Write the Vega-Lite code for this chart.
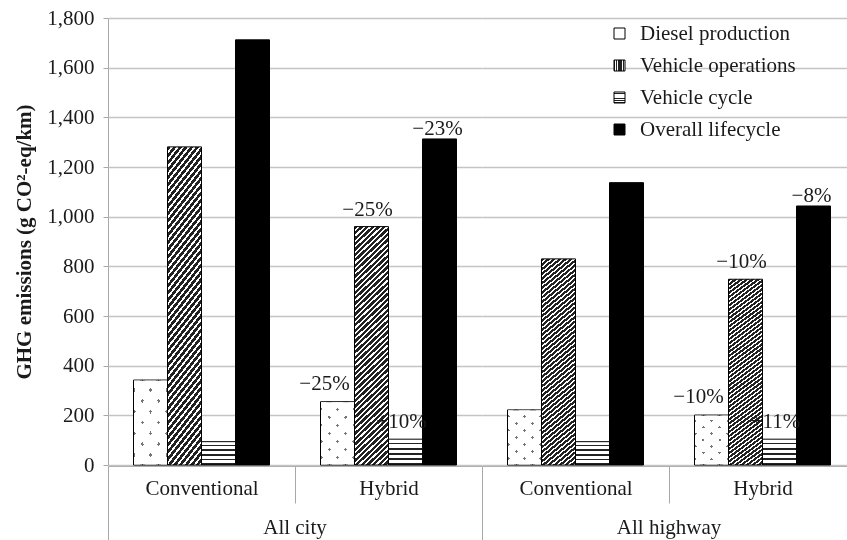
{
  "$schema": "https://vega.github.io/schema/vega-lite/v6.json",
  "padding": {"left": 13, "top": 7, "right": 0, "bottom": 0},
  "background": "white",
  "params": [
    {"name": "opsFill", "expr": "{gradient:'linear',x1:0,y1:0,x2:0.152,y2:1.115,stops:[{offset:0,color:'#222'},{offset:0.012,color:'#222'},{offset:0.012,color:'#fff'},{offset:0.02,color:'#fff'},{offset:0.02,color:'#222'},{offset:0.032,color:'#222'},{offset:0.032,color:'#fff'},{offset:0.04,color:'#fff'},{offset:0.04,color:'#222'},{offset:0.052,color:'#222'},{offset:0.052,color:'#fff'},{offset:0.06,color:'#fff'},{offset:0.06,color:'#222'},{offset:0.072,color:'#222'},{offset:0.072,color:'#fff'},{offset:0.08,color:'#fff'},{offset:0.08,color:'#222'},{offset:0.092,color:'#222'},{offset:0.092,color:'#fff'},{offset:0.1,color:'#fff'},{offset:0.1,color:'#222'},{offset:0.112,color:'#222'},{offset:0.112,color:'#fff'},{offset:0.12,color:'#fff'},{offset:0.12,color:'#222'},{offset:0.132,color:'#222'},{offset:0.132,color:'#fff'},{offset:0.14,color:'#fff'},{offset:0.14,color:'#222'},{offset:0.152,color:'#222'},{offset:0.152,color:'#fff'},{offset:0.16,color:'#fff'},{offset:0.16,color:'#222'},{offset:0.172,color:'#222'},{offset:0.172,color:'#fff'},{offset:0.18,color:'#fff'},{offset:0.18,color:'#222'},{offset:0.192,color:'#222'},{offset:0.192,color:'#fff'},{offset:0.2,color:'#fff'},{offset:0.2,color:'#222'},{offset:0.212,color:'#222'},{offset:0.212,color:'#fff'},{offset:0.22,color:'#fff'},{offset:0.22,color:'#222'},{offset:0.232,color:'#222'},{offset:0.232,color:'#fff'},{offset:0.24,color:'#fff'},{offset:0.24,color:'#222'},{offset:0.252,color:'#222'},{offset:0.252,color:'#fff'},{offset:0.26,color:'#fff'},{offset:0.26,color:'#222'},{offset:0.272,color:'#222'},{offset:0.272,color:'#fff'},{offset:0.28,color:'#fff'},{offset:0.28,color:'#222'},{offset:0.292,color:'#222'},{offset:0.292,color:'#fff'},{offset:0.3,color:'#fff'},{offset:0.3,color:'#222'},{offset:0.312,color:'#222'},{offset:0.312,color:'#fff'},{offset:0.32,color:'#fff'},{offset:0.32,color:'#222'},{offset:0.332,color:'#222'},{offset:0.332,color:'#fff'},{offset:0.34,color:'#fff'},{offset:0.34,color:'#222'},{offset:0.352,color:'#222'},{offset:0.352,color:'#fff'},{offset:0.36,color:'#fff'},{offset:0.36,color:'#222'},{offset:0.372,color:'#222'},{offset:0.372,color:'#fff'},{offset:0.38,color:'#fff'},{offset:0.38,color:'#222'},{offset:0.392,color:'#222'},{offset:0.392,color:'#fff'},{offset:0.4,color:'#fff'},{offset:0.4,color:'#222'},{offset:0.412,color:'#222'},{offset:0.412,color:'#fff'},{offset:0.42,color:'#fff'},{offset:0.42,color:'#222'},{offset:0.432,color:'#222'},{offset:0.432,color:'#fff'},{offset:0.44,color:'#fff'},{offset:0.44,color:'#222'},{offset:0.452,color:'#222'},{offset:0.452,color:'#fff'},{offset:0.46,color:'#fff'},{offset:0.46,color:'#222'},{offset:0.472,color:'#222'},{offset:0.472,color:'#fff'},{offset:0.48,color:'#fff'},{offset:0.48,color:'#222'},{offset:0.492,color:'#222'},{offset:0.492,color:'#fff'},{offset:0.5,color:'#fff'},{offset:0.5,color:'#222'},{offset:0.512,color:'#222'},{offset:0.512,color:'#fff'},{offset:0.52,color:'#fff'},{offset:0.52,color:'#222'},{offset:0.532,color:'#222'},{offset:0.532,color:'#fff'},{offset:0.54,color:'#fff'},{offset:0.54,color:'#222'},{offset:0.552,color:'#222'},{offset:0.552,color:'#fff'},{offset:0.56,color:'#fff'},{offset:0.56,color:'#222'},{offset:0.572,color:'#222'},{offset:0.572,color:'#fff'},{offset:0.58,color:'#fff'},{offset:0.58,color:'#222'},{offset:0.592,color:'#222'},{offset:0.592,color:'#fff'},{offset:0.6,color:'#fff'},{offset:0.6,color:'#222'},{offset:0.612,color:'#222'},{offset:0.612,color:'#fff'},{offset:0.62,color:'#fff'},{offset:0.62,color:'#222'},{offset:0.632,color:'#222'},{offset:0.632,color:'#fff'},{offset:0.64,color:'#fff'},{offset:0.64,color:'#222'},{offset:0.652,color:'#222'},{offset:0.652,color:'#fff'},{offset:0.66,color:'#fff'},{offset:0.66,color:'#222'},{offset:0.672,color:'#222'},{offset:0.672,color:'#fff'},{offset:0.68,color:'#fff'},{offset:0.68,color:'#222'},{offset:0.692,color:'#222'},{offset:0.692,color:'#fff'},{offset:0.7,color:'#fff'},{offset:0.7,color:'#222'},{offset:0.712,color:'#222'},{offset:0.712,color:'#fff'},{offset:0.72,color:'#fff'},{offset:0.72,color:'#222'},{offset:0.732,color:'#222'},{offset:0.732,color:'#fff'},{offset:0.74,color:'#fff'},{offset:0.74,color:'#222'},{offset:0.752,color:'#222'},{offset:0.752,color:'#fff'},{offset:0.76,color:'#fff'},{offset:0.76,color:'#222'},{offset:0.772,color:'#222'},{offset:0.772,color:'#fff'},{offset:0.78,color:'#fff'},{offset:0.78,color:'#222'},{offset:0.792,color:'#222'},{offset:0.792,color:'#fff'},{offset:0.8,color:'#fff'},{offset:0.8,color:'#222'},{offset:0.812,color:'#222'},{offset:0.812,color:'#fff'},{offset:0.82,color:'#fff'},{offset:0.82,color:'#222'},{offset:0.832,color:'#222'},{offset:0.832,color:'#fff'},{offset:0.84,color:'#fff'},{offset:0.84,color:'#222'},{offset:0.852,color:'#222'},{offset:0.852,color:'#fff'},{offset:0.86,color:'#fff'},{offset:0.86,color:'#222'},{offset:0.872,color:'#222'},{offset:0.872,color:'#fff'},{offset:0.88,color:'#fff'},{offset:0.88,color:'#222'},{offset:0.892,color:'#222'},{offset:0.892,color:'#fff'},{offset:0.9,color:'#fff'},{offset:0.9,color:'#222'},{offset:0.912,color:'#222'},{offset:0.912,color:'#fff'},{offset:0.92,color:'#fff'},{offset:0.92,color:'#222'},{offset:0.932,color:'#222'},{offset:0.932,color:'#fff'},{offset:0.94,color:'#fff'},{offset:0.94,color:'#222'},{offset:0.952,color:'#222'},{offset:0.952,color:'#fff'},{offset:0.96,color:'#fff'},{offset:0.96,color:'#222'},{offset:0.972,color:'#222'},{offset:0.972,color:'#fff'},{offset:0.98,color:'#fff'},{offset:0.98,color:'#222'},{offset:0.992,color:'#222'},{offset:0.992,color:'#fff'},{offset:1,color:'#fff'}]}"},
    {"name": "cycleFill", "expr": "{gradient:'linear',x1:0,y1:0,x2:0,y2:1,stops:[{offset:0,color:'#fff'},{offset:0.13,color:'#fff'},{offset:0.13,color:'#222'},{offset:0.2,color:'#222'},{offset:0.2,color:'#fff'},{offset:0.33,color:'#fff'},{offset:0.33,color:'#222'},{offset:0.4,color:'#222'},{offset:0.4,color:'#fff'},{offset:0.53,color:'#fff'},{offset:0.53,color:'#222'},{offset:0.6,color:'#222'},{offset:0.6,color:'#fff'},{offset:0.73,color:'#fff'},{offset:0.73,color:'#222'},{offset:0.8,color:'#222'},{offset:0.8,color:'#fff'},{offset:0.93,color:'#fff'},{offset:0.93,color:'#222'},{offset:1,color:'#222'}]}"},
    {"name": "dieselA", "expr": "{gradient:'linear',x1:0,y1:0,x2:0.634,y2:1.194,stops:[{offset:0,color:'#fff'},{offset:0.067,color:'#fff'},{offset:0.067,color:'#444'},{offset:0.099,color:'#444'},{offset:0.099,color:'#fff'},{offset:0.234,color:'#fff'},{offset:0.234,color:'#444'},{offset:0.266,color:'#444'},{offset:0.266,color:'#fff'},{offset:0.401,color:'#fff'},{offset:0.401,color:'#444'},{offset:0.433,color:'#444'},{offset:0.433,color:'#fff'},{offset:0.567,color:'#fff'},{offset:0.567,color:'#444'},{offset:0.599,color:'#444'},{offset:0.599,color:'#fff'},{offset:0.734,color:'#fff'},{offset:0.734,color:'#444'},{offset:0.766,color:'#444'},{offset:0.766,color:'#fff'},{offset:0.901,color:'#fff'},{offset:0.901,color:'#444'},{offset:0.933,color:'#444'},{offset:0.933,color:'#fff'},{offset:1,color:'#fff'}]}"},
    {"name": "dieselB", "expr": "{gradient:'linear',x1:1,y1:0,x2:0.366,y2:1.194,stops:[{offset:0,color:'#fff'},{offset:0.067,color:'#fff'},{offset:0.067,color:'#444'},{offset:0.099,color:'#444'},{offset:0.099,color:'#fff'},{offset:0.234,color:'#fff'},{offset:0.234,color:'#444'},{offset:0.266,color:'#444'},{offset:0.266,color:'#fff'},{offset:0.401,color:'#fff'},{offset:0.401,color:'#444'},{offset:0.433,color:'#444'},{offset:0.433,color:'#fff'},{offset:0.567,color:'#fff'},{offset:0.567,color:'#444'},{offset:0.599,color:'#444'},{offset:0.599,color:'#fff'},{offset:0.734,color:'#fff'},{offset:0.734,color:'#444'},{offset:0.766,color:'#444'},{offset:0.766,color:'#fff'},{offset:0.901,color:'#fff'},{offset:0.901,color:'#444'},{offset:0.933,color:'#444'},{offset:0.933,color:'#fff'},{offset:1,color:'#fff'}]}"}
  ],
  "config": {
    "font": "Liberation Serif",
    "view": {"stroke": null},
    "facet": {"spacing": 0},
    "axis": {
      "labelFont": "Liberation Serif",
      "labelFontSize": 21,
      "labelColor": "#1a1a1a",
      "domainColor": "#a8a8a8",
      "tickColor": "#a8a8a8",
      "gridColor": "#c4c4c4",
      "gridWidth": 1.5
    }
  },
  "data": {
    "values": [
      {"Road": "All city", "Vehicle": "Conventional", "Category": "Diesel production", "Value": 342, "Label": null},
      {"Road": "All city", "Vehicle": "Conventional", "Category": "Vehicle operations", "Value": 1281, "Label": null},
      {"Road": "All city", "Vehicle": "Conventional", "Category": "Vehicle cycle", "Value": 94, "Label": null},
      {"Road": "All city", "Vehicle": "Conventional", "Category": "Overall lifecycle", "Value": 1712, "Label": null},
      {"Road": "All city", "Vehicle": "Hybrid", "Category": "Diesel production", "Value": 255, "Label": "−25%"},
      {"Road": "All city", "Vehicle": "Hybrid", "Category": "Vehicle operations", "Value": 960, "Label": "−25%"},
      {"Road": "All city", "Vehicle": "Hybrid", "Category": "Vehicle cycle", "Value": 104, "Label": "+10%"},
      {"Road": "All city", "Vehicle": "Hybrid", "Category": "Overall lifecycle", "Value": 1313, "Label": "−23%"},
      {"Road": "All highway", "Vehicle": "Conventional", "Category": "Diesel production", "Value": 222, "Label": null},
      {"Road": "All highway", "Vehicle": "Conventional", "Category": "Vehicle operations", "Value": 830, "Label": null},
      {"Road": "All highway", "Vehicle": "Conventional", "Category": "Vehicle cycle", "Value": 94, "Label": null},
      {"Road": "All highway", "Vehicle": "Conventional", "Category": "Overall lifecycle", "Value": 1137, "Label": null},
      {"Road": "All highway", "Vehicle": "Hybrid", "Category": "Diesel production", "Value": 201, "Label": "−10%"},
      {"Road": "All highway", "Vehicle": "Hybrid", "Category": "Vehicle operations", "Value": 748, "Label": "−10%"},
      {"Road": "All highway", "Vehicle": "Hybrid", "Category": "Vehicle cycle", "Value": 104, "Label": "+11%"},
      {"Road": "All highway", "Vehicle": "Hybrid", "Category": "Overall lifecycle", "Value": 1043, "Label": "−8%"}
    ]
  },
  "facet": {
    "column": {
      "field": "Road",
      "type": "nominal",
      "sort": ["All city", "All highway"],
      "header": {
        "title": null,
        "labelOrient": "bottom",
        "labelFont": "Liberation Serif",
        "labelFontSize": 21,
        "labelColor": "#1a1a1a",
        "labelPadding": -26
      }
    }
  },
  "spacing": 0,
  "spec": {
    "width": 374,
    "height": 447,
    "encoding": {
      "x": {
        "field": "Vehicle",
        "type": "nominal",
        "sort": ["Conventional", "Hybrid"],
        "scale": {"paddingInner": 0, "paddingOuter": 0},
        "axis": {
          "title": null,
          "labelAngle": 0,
          "tickBand": "extent",
          "tickSize": {"condition": {"test": "datum.value === 'Conventional'", "value": 37}, "value": 76},
          "labelPadding": {"condition": {"test": "datum.value === 'Conventional'", "value": -26}, "value": -65}
        }
      },
      "xOffset": {
        "field": "Category",
        "type": "nominal",
        "sort": ["Diesel production", "Vehicle operations", "Vehicle cycle", "Overall lifecycle"],
        "scale": {"paddingInner": 0, "paddingOuter": 0.75}
      },
      "y": {
        "field": "Value",
        "type": "quantitative",
        "scale": {"domain": [0, 1800]},
        "axis": {
          "title": "GHG emissions (g CO²-eq/km)",
          "titleFont": "Liberation Serif",
          "titleFontWeight": "bold",
          "titleFontSize": 21,
          "titleColor": "#1a1a1a",
          "titlePadding": 12,
          "format": ",.0f",
          "values": [0, 200, 400, 600, 800, 1000, 1200, 1400, 1600, 1800],
          "tickSize": 5,
          "labelPadding": 9,
          "grid": true
        }
      }
    },
    "layer": [
      {
        "mark": {"type": "bar", "stroke": "#000", "strokeWidth": 1},
        "encoding": {
          "fill": {
            "condition": {"test": "datum.Category === 'Diesel production'", "value": {"expr": "dieselA"}},
            "field": "Category",
            "type": "nominal",
            "scale": {
              "domain": ["Diesel production", "Vehicle operations", "Vehicle cycle", "Overall lifecycle"],
              "range": ["#ffffff", {"expr": "opsFill"}, {"expr": "cycleFill"}, "#000000"]
            },
            "legend": {
              "title": null,
              "orient": "none",
              "legendX": 501,
              "legendY": 5,
              "symbolType": "square",
              "symbolSize": 121,
              "symbolStrokeColor": "#000",
              "symbolStrokeWidth": 1,
              "labelFont": "Liberation Serif",
              "labelFontSize": 21,
              "labelColor": "#1a1a1a",
              "labelOffset": 10,
              "rowPadding": 10
            }
          }
        }
      },
      {
        "transform": [{"filter": "datum.Category === 'Diesel production'"}],
        "mark": {"type": "bar", "stroke": "#000", "strokeWidth": 1, "fill": {"expr": "dieselB"}, "blend": "screen"},
        "encoding": {}
      },
      {
        "transform": [{"filter": "datum.Label != null && datum.Category == 'Diesel production'"}],
        "mark": {"type": "text", "font": "Liberation Serif", "fontSize": 21, "fill": "#1a1a1a", "dx": -13, "dy": -18},
        "encoding": {"text": {"field": "Label"}}
      },
      {
        "transform": [{"filter": "datum.Label != null && datum.Category == 'Overall lifecycle'"}],
        "mark": {"type": "text", "font": "Liberation Serif", "fontSize": 21, "fill": "#1a1a1a", "dx": -2, "dy": -10},
        "encoding": {"text": {"field": "Label"}}
      },
      {
        "transform": [{"filter": "datum.Label != null && (datum.Category == 'Vehicle operations' || datum.Category == 'Vehicle cycle')"}],
        "mark": {"type": "text", "font": "Liberation Serif", "fontSize": 21, "fill": "#1a1a1a", "dx": -4, "dy": -17},
        "encoding": {"text": {"field": "Label"}}
      }
    ]
  }
}
